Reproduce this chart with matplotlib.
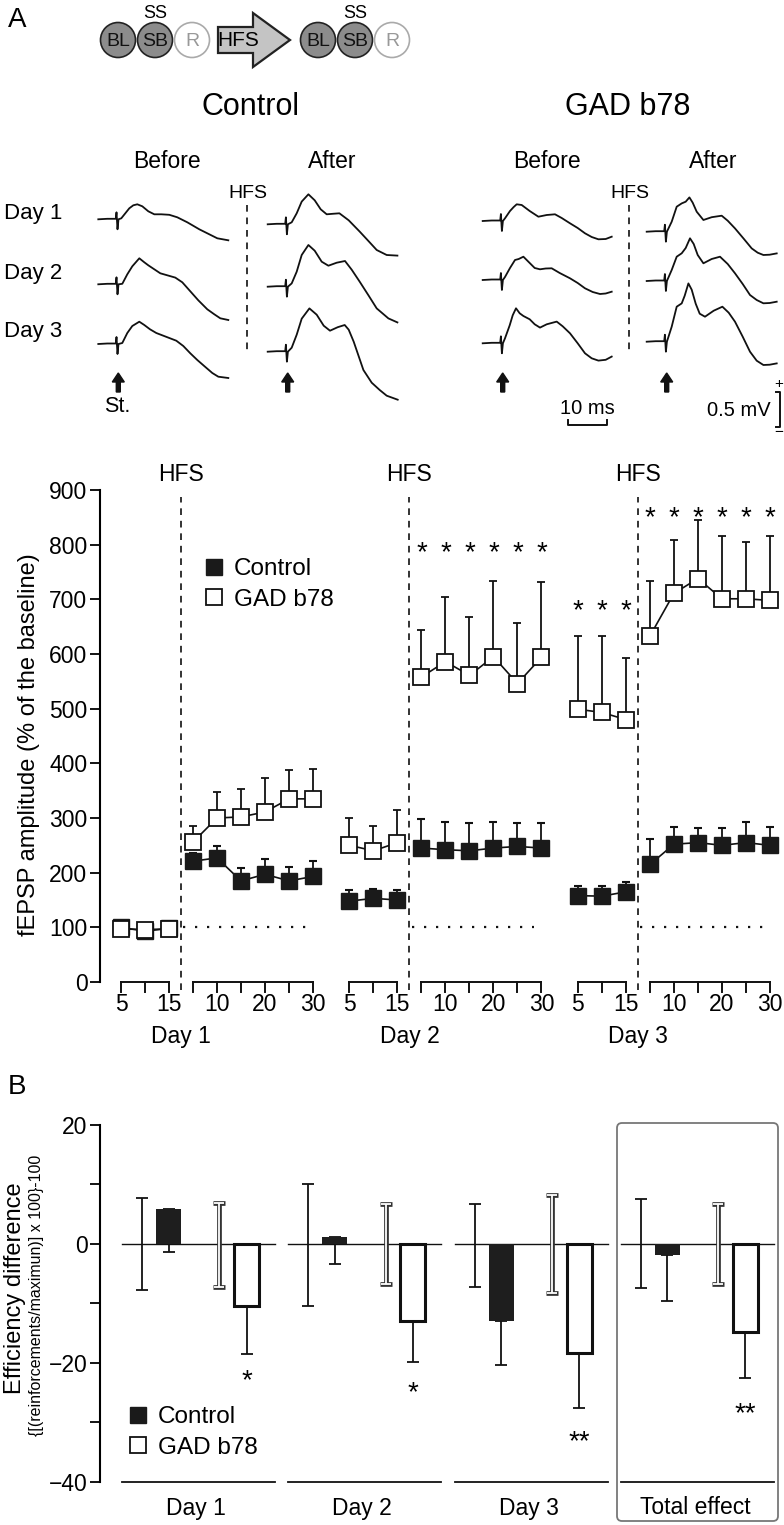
import numpy as np
import matplotlib
matplotlib.use('Agg')
import matplotlib.pyplot as plt
from matplotlib.patches import Circle, Polygon, FancyBboxPatch
from matplotlib.lines import Line2D

plt.rcParams['font.family'] = ['Liberation Sans', 'DejaVu Sans']

W, H = 784, 1525

# ---------------- data: panel A, time course (% of baseline) ----------------
days = ['Day 1', 'Day 2', 'Day 3']
pre_t = [5, 10, 15]
post_t = [5, 10, 15, 20, 25, 30]
pre_ticklabels = ['5', '', '15']
post_ticklabels = ['', '10', '', '20', '', '30']

ctrl_pre = [[100, 93, 98], [148, 153, 150], [158, 157, 165]]
ctrl_pre_top = [[104, 100, 103], [168, 170, 168], [176, 176, 183]]
gad_pre = [[97, 96, 97], [250, 240, 255], [499, 493, 480]]
gad_pre_top = [[102, 101, 102], [300, 285, 315], [633, 633, 593]]

ctrl_post = [[221, 227, 185, 197, 185, 193],
             [245, 242, 240, 245, 248, 245],
             [215, 252, 255, 250, 255, 250]]
ctrl_post_top = [[236, 249, 209, 225, 211, 221],
                 [298, 292, 290, 292, 290, 290],
                 [262, 283, 282, 282, 292, 283]]
gad_post = [[256, 300, 302, 311, 335, 335],
            [558, 586, 561, 595, 546, 594],
            [633, 711, 738, 701, 701, 698]]
gad_post_top = [[285, 347, 353, 373, 388, 390],
                [644, 705, 668, 733, 656, 731],
                [733, 808, 846, 815, 805, 815]]

# significance stars (day, phase, level)
star_rows = [(1, 'post', 800), (2, 'pre', 693), (2, 'post', 864)]

# ---------------- data: panel B, efficiency difference ----------------
groups = ['Day 1', 'Day 2', 'Day 3', 'Total effect']
ctrl_sd_hi = [7.8, 10.1, 6.7, 7.5]
ctrl_sd_lo = [-7.7, -10.4, -7.2, -7.4]
ctrl_mean = [5.8, 1.2, -12.9, -1.8]
ctrl_err_end = [-1.3, -3.4, -20.3, -9.6]
gad_sd_hi = [6.9, 6.7, 8.2, 6.7]
gad_sd_lo = [-7.3, -6.7, -8.3, -6.7]
gad_mean = [-10.5, -12.9, -18.4, -14.9]
gad_err_end = [-18.5, -19.9, -27.6, -22.6]
b_stars = ['*', '*', '**', '**']
b_star_level = [-21.7, -23.7, -31.9, -27.3]

# ---------------- data: example fEPSP traces (dx ms-px, dy px up) ----------------
stim = [(-19, 0), (-10, 0.5), (-1.5, 0.5), (-0.8, 7), (0.2, -10), (1.2, 0)]
ctrl_before_d1 = [(4, 1), (8, 6), (12, 11), (16, 14), (20, 15), (25, 13), (31, 8), (37, 5),
                  (44, 5), (52, 4.5), (60, 2), (70, -3), (82, -10), (92, -15), (100, -19), (111, -21)]
ctrl_before_d2 = [(5, 0.5), (10, 10), (15, 18), (22, 26), (27, 22), (31, 19), (37, 15), (43, 11),
                  (50, 9), (58, 6.7), (65, 2), (73, -7), (81, -16), (90, -25), (97, -30), (103, -34), (111, -35.7)]
ctrl_before_d3 = [(5, 1), (10, 11), (15, 18), (22, 22.3), (27, 19), (32.7, 14.7), (39, 11), (46, 8.3),
                  (52, 6), (59, 3.3), (66, -2), (73, -9.3), (80, -16), (87.7, -22.7), (95, -29), (101, -32.7), (111, -34)]
ctrl_after_d1 = [(5, 2), (10, 11), (15, 22.7), (21.7, 30), (28, 24), (34, 15), (40, 10), (46, 10.5),
                 (52.7, 11), (62, 4), (73, -7.3), (82, -17), (90, -25.7), (100, -30.7), (110.7, -31.3)]
ctrl_after_d2 = [(5, 3.3), (10, 15), (15, 31.7), (21.7, 41.7), (28, 36), (35, 25), (41.7, 21), (50, 24),
                 (58.3, 25.7), (65, 17), (73, 5), (82, -9), (90, -21.7), (101.7, -31.7), (110.7, -35.7)]
ctrl_after_d3 = [(5, 4), (10, 17), (15, 33), (22.7, 43.3), (30, 37), (37, 26), (43.3, 21), (51, 24.5),
                 (58, 26.7), (62, 22), (67, 10), (76.7, -18.3), (85, -31), (93, -38.3), (100, -44), (111, -48)]
gad_before_d1 = [(3.3, 2.7), (8.3, 10), (12, 14), (15, 16.7), (20, 16), (28, 10), (36.7, 4.3), (45, 6),
                 (53.3, 6.7), (60, 3), (68.3, -2.3), (76, -7), (83.3, -12.3), (90, -16), (96.7, -18.3),
                 (104, -18), (110, -15.7)]
gad_before_d2 = [(3.3, 3), (8.3, 12), (13.3, 20), (17, 21), (21.7, 23.3), (28, 17), (33, 12), (38.3, 10.7),
                 (44, 11.5), (50, 11.7), (58, 7), (68.3, 1.7), (76, -3), (83.3, -8.3), (91, -12), (98.3, -14),
                 (104, -13.5), (110, -11.7)]
gad_before_d3 = [(3.3, 5), (8, 18), (11, 28), (14.3, 35), (18, 30), (21.7, 27.3), (28, 24), (33, 19),
                 (38.3, 15.7), (45, 19), (55, 21.7), (61, 17), (68.3, 10), (76, 0), (83.3, -10), (90, -15),
                 (96.7, -17.3), (104, -16.5), (110, -13.3)]
gad_after_d1 = [(6, 10), (11, 25), (16, 28.3), (20, 30), (23.7, 34.3), (27, 29), (31, 20), (37.7, 11.7),
                (46, 14.5), (56, 16), (62, 11), (69.3, 3.3), (78, -7), (86, -16.7), (92, -21), (97.7, -23.3),
                (104, -23), (111, -21.7)]
gad_after_d2 = [(6, 11), (11, 24.3), (16, 27.7), (20, 33), (24.3, 42.7), (28, 37), (32, 26), (37.7, 17.7),
                (46, 22), (54.3, 24.3), (62, 17), (69.3, 7.7), (77, -3), (84.3, -14), (91, -19), (97.7, -22.3),
                (104, -22), (111, -20.7)]
gad_after_d3 = [(6, 15), (11, 35), (16, 38.3), (19, 46), (22.7, 58.3), (26, 52), (30, 38), (34, 28),
                (39.3, 25), (48, 31), (56.7, 35), (63, 29), (69.3, 20), (77, 5), (84.3, -10), (91, -19),
                (97.7, -23.3), (104, -23), (111, -21.7)]

fig = plt.figure(figsize=(W / 100, H / 100), dpi=100)

def px_axes(left, top, right, bottom):
    return fig.add_axes([left / W, 1 - bottom / H, (right - left) / W, (bottom - top) / H])

# overlay in pixel coordinates for schematic, traces and labels
ov = fig.add_axes([0, 0, 1, 1], zorder=0)
ov.set_xlim(0, W)
ov.set_ylim(H, 0)
ov.axis('off')

ov.text(17, 20, 'A', fontsize=20, ha='center', va='center')
ov.text(17, 1087, 'B', fontsize=20, ha='center', va='center')

# schematic BL SB R -> HFS -> BL SB R
for cx0 in [118, 318]:
    for k, (lab, fc, ec, tc) in enumerate([('BL', '#8c8c8c', '#222222', '#111111'),
                                          ('SB', '#8c8c8c', '#222222', '#111111'),
                                          ('R', 'white', '#aaaaaa', '#999999')]):
        cx = cx0 + 37 * k
        ov.add_patch(Circle((cx, 40), 17.5, facecolor=fc, edgecolor=ec, lw=1.2))
        ov.text(cx, 41, lab, fontsize=14, ha='center', va='center', color=tc)
    ov.text(cx0 + 37, 13, 'SS', fontsize=13, ha='center', va='center')
ov.add_patch(Polygon([[218, 27], [253, 27], [253, 13], [290, 40], [253, 67], [253, 53], [218, 53]],
                     closed=True, facecolor='#c4c4c4', edgecolor='#222222', lw=1.6))
ov.text(238, 41, 'HFS', fontsize=15, ha='center', va='center')

ov.text(251, 107, 'Control', fontsize=22, ha='center', va='center')
ov.text(628, 107, 'GAD b78', fontsize=22, ha='center', va='center')
for x, s in [(167, 'Before'), (332, 'After'), (547, 'Before'), (713, 'After')]:
    ov.text(x, 161, s, fontsize=16.5, ha='center', va='center')
for y, s in zip([213, 273, 332], days):
    ov.text(4, y, s, fontsize=16, ha='left', va='center')

trace_sets = [
    (117.3, [219.3, 284.3, 344], [ctrl_before_d1, ctrl_before_d2, ctrl_before_d3]),
    (286.7, [224.3, 286.7, 351.7], [ctrl_after_d1, ctrl_after_d2, ctrl_after_d3]),
    (501.7, [221, 280, 343.3], [gad_before_d1, gad_before_d2, gad_before_d3]),
    (665.7, [231.7, 281, 341.7], [gad_after_d1, gad_after_d2, gad_after_d3]),
]
for sx, bases, trs in trace_sets:
    for by, tr in zip(bases, trs):
        pts = np.array(stim + tr)
        ov.plot(sx + pts[:, 0], by - pts[:, 1], color='#111111', lw=1.3)
    ov.arrow(sx + 1, 392, 0, -10, width=4, head_width=12, head_length=9,
             length_includes_head=False, color='#111111')
ov.text(117, 407, 'St.', fontsize=15.5, ha='center', va='center')

for x in [246.7, 629]:
    ov.plot([x, x], [205, 351], color='#111111', lw=1.2, ls=(0, (4, 3.5)))
    ov.text(x + 1, 193, 'HFS', fontsize=14, ha='center', va='center')

# scale bars
ov.text(587, 408, '10 ms', fontsize=14.5, ha='center', va='center')
ov.plot([568, 568, 607, 607], [420, 425, 425, 420], color='#111111', lw=1.4)
ov.text(771, 410, '0.5 mV', fontsize=14.5, ha='right', va='center')
ov.plot([776, 780, 780, 776], [392, 392, 427, 427], color='#111111', lw=1.4)
ov.text(779, 384, '+', fontsize=11, ha='center', va='center')
ov.text(779, 432, '\u2212', fontsize=11, ha='center', va='center')

# ---------------- middle panel: time course ----------------
DAY_SHIFT = 47.6
ax = px_axes(100, 490, 784, 982)
ax.set_xlim(5 - 21 / 4.8, 5 + 663 / 4.8)
ax.set_ylim(0, 900)
for s in ['top', 'right', 'bottom']:
    ax.spines[s].set_visible(False)
ax.spines['left'].set_linewidth(1.5)
ax.set_xticks([])
ax.set_yticks(np.arange(0, 901, 100))
ax.tick_params(axis='y', length=7, width=1.3, labelsize=16.5, pad=2)
ax.patch.set_alpha(0)

def pos_pre(d):
    return np.array(pre_t) + DAY_SHIFT * d

def pos_post(d):
    return np.array(post_t) + 15 + DAY_SHIFT * d

for d in range(3):
    for xs, m, top in [(pos_pre(d), ctrl_pre[d], ctrl_pre_top[d]),
                       (pos_post(d), ctrl_post[d], ctrl_post_top[d])]:
        m = np.array(m)
        ax.errorbar(xs, m, yerr=[np.zeros_like(m), np.array(top) - m], fmt='-s', color='#111111',
                    mfc='#1a1a1a', mec='#1a1a1a', ms=11, lw=1.2, elinewidth=1.3,
                    capsize=3, capthick=1.5, zorder=3, clip_on=False)
    for xs, m, top in [(pos_pre(d), gad_pre[d], gad_pre_top[d]),
                       (pos_post(d), gad_post[d], gad_post_top[d])]:
        m = np.array(m)
        ax.errorbar(xs, m, yerr=[np.zeros_like(m), np.array(top) - m], fmt='-s', color='#111111',
                    mfc='white', mec='#111111', ms=11.5, mew=1.3, lw=1.2, elinewidth=1.3,
                    capsize=3, capthick=1.5, zorder=4, clip_on=False)
    hx = 17.5 + DAY_SHIFT * d
    ax.plot([hx, hx], [-15, 888], color='#111111', lw=1.2, ls=(0, (4, 3.5)), clip_on=False)
    ax.text(hx, 929, 'HFS', fontsize=16.5, ha='center', va='center', clip_on=False)
    ax.plot([hx + 0.5, hx + 26], [100, 100], color='#111111', lw=1.6, ls=(0, (1, 4.4)))
    # segment brackets
    for xs, labs in [(pos_pre(d), pre_ticklabels), (pos_post(d), post_ticklabels)]:
        ax.plot([xs[0], xs[-1]], [0, 0], color='#111111', lw=1.4, clip_on=False)
        for x, lab in zip(xs, labs):
            ax.plot([x, x], [0, -18], color='#111111', lw=1.4, clip_on=False)
            if lab:
                ax.text(x, -42, lab, fontsize=16.5, ha='center', va='center', clip_on=False)
    ax.text(hx, -100, days[d], fontsize=16.5, ha='center', va='center', clip_on=False)

for d, phase, lvl in star_rows:
    xs = pos_post(d) if phase == 'post' else pos_pre(d)
    for x in xs:
        ax.annotate('*', (x, lvl), xytext=(0, -11), textcoords='offset points',
                    fontsize=20, ha='center', va='baseline')

ov.text(29, 745, 'fEPSP amplitude (% of the baseline)', fontsize=17, rotation=90,
        ha='center', va='center')

mid_handles = [Line2D([], [], marker='s', ls='none', mfc='#1a1a1a', mec='#1a1a1a', ms=11),
               Line2D([], [], marker='s', ls='none', mfc='white', mec='#111111', ms=11.5, mew=1.3)]
fig.legend(mid_handles, ['Control', 'GAD b78'], loc='upper left',
           bbox_to_anchor=(205 / W, 1 - 558 / H), frameon=False, fontsize=17.5,
           handlelength=0.75, handletextpad=0.45, borderpad=0, borderaxespad=0, labelspacing=0.35)

# ---------------- bottom panel: efficiency ----------------
bx = px_axes(100, 1125, 784, 1481.7)
bx.set_xlim((100 - 198.5) / 166.3, (784 - 198.5) / 166.3)
bx.set_ylim(-40, 20)
for s in ['top', 'right', 'bottom']:
    bx.spines[s].set_visible(False)
bx.spines['left'].set_linewidth(1.5)
bx.set_xticks([])
bx.set_yticks(np.arange(-40, 21, 10))
bx.set_yticklabels(['\u221240', '', '\u221220', '', '0', '', '20'])
bx.tick_params(axis='y', length=7, width=1.3, labelsize=16.5, pad=2)
bx.patch.set_alpha(0)

gx = np.arange(len(groups))
OFF = [-0.34, -0.18, 0.126, 0.289]
BW = 0.15
for g in gx:
    bx.plot([g - 0.46, g + 0.46], [0, 0], color='#111111', lw=1.0, zorder=1)
    bx.plot([g - 0.46, g + 0.46], [-40, -40], color='#111111', lw=1.3, zorder=1, clip_on=False)
    ov.text(196 + 166.3 * g, 1508, groups[g], fontsize=16.5, ha='center', va='center')

bx.errorbar(gx + OFF[0], np.zeros(4), yerr=[-np.array(ctrl_sd_lo), np.array(ctrl_sd_hi)],
            fmt='none', ecolor='#111111', elinewidth=1.3, capsize=4, capthick=1.3, zorder=3)
bx.bar(gx + OFF[1], ctrl_mean, width=BW, color='#1e1e1e', zorder=2)
bx.errorbar(gx + OFF[1], ctrl_mean, yerr=[np.array(ctrl_mean) - np.array(ctrl_err_end), np.zeros(4)],
            fmt='none', ecolor='#111111', elinewidth=1.3, capsize=4, capthick=1.3, zorder=1.5)
bx.errorbar(gx + OFF[2], np.zeros(4), yerr=[-np.array(gad_sd_lo), np.array(gad_sd_hi)],
            fmt='none', ecolor='#333333', elinewidth=3.4, capsize=4.2, capthick=3.4, zorder=3)
bx.errorbar(gx + OFF[2], np.zeros(4), yerr=[-np.array(gad_sd_lo), np.array(gad_sd_hi)],
            fmt='none', ecolor='white', elinewidth=1.3, capsize=3.4, capthick=1.3, zorder=3.1)
bx.bar(gx + OFF[3], gad_mean, width=BW, color='white', edgecolor='#111111', linewidth=2.2, zorder=2)
bx.errorbar(gx + OFF[3], gad_mean, yerr=[np.array(gad_mean) - np.array(gad_err_end), np.zeros(4)],
            fmt='none', ecolor='#111111', elinewidth=1.3, capsize=4, capthick=1.3, zorder=1.5)
for g in gx:
    bx.annotate(b_stars[g], (g + OFF[3], b_star_level[g]), xytext=(0, -11), textcoords='offset points',
                fontsize=20, ha='center', va='baseline')

ov.add_patch(FancyBboxPatch((617, 1123), 161, 398, boxstyle='round,pad=0,rounding_size=5',
                            facecolor='none', edgecolor='#777777', lw=1.3))

ov.text(15, 1288, 'Efficiency difference', fontsize=17, rotation=90, ha='center', va='center')
ov.text(37, 1295, '{[(reinforcements/maximun)] x 100}-100', fontsize=11.5, rotation=90,
        ha='center', va='center')

bot_handles = [Line2D([], [], marker='s', ls='none', mfc='#1a1a1a', mec='#1a1a1a', ms=11),
               Line2D([], [], marker='s', ls='none', mfc='white', mec='#111111', ms=11.5, mew=1.3)]
fig.legend(bot_handles, ['Control', 'GAD b78'], loc='upper left',
           bbox_to_anchor=(129 / W, 1 - 1406 / H), frameon=False, fontsize=17.5,
           handlelength=0.75, handletextpad=0.45, borderpad=0, borderaxespad=0, labelspacing=0.35)

fig.savefig('out.png', dpi=100)
